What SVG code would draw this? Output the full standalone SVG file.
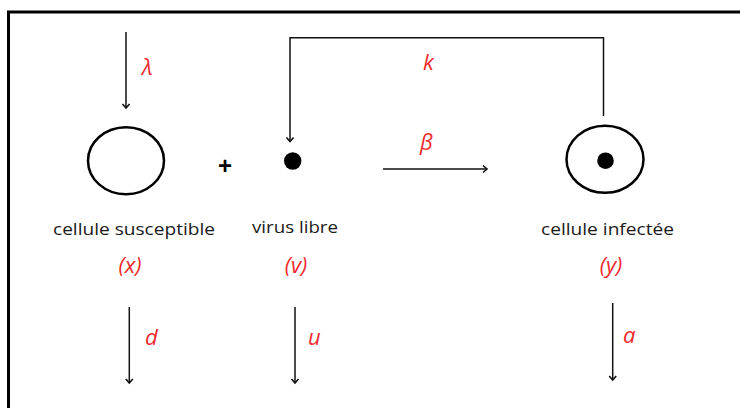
<svg xmlns="http://www.w3.org/2000/svg" width="740" height="408" viewBox="0 0 740 408">
  <style>
    .lbl { font-family: "Open Sans", "Liberation Sans", Arial, sans-serif; font-size: 17px; fill: #1a1a1a; }
    .var { font-family: "Open Sans", "Liberation Sans", Arial, sans-serif; font-size: 22px; font-style: italic; fill: #ee2a2e; }
    .par { font-family: "Open Sans", "Liberation Sans", Arial, sans-serif; font-size: 22px; font-style: italic; fill: #ee2a2e; }
    .edge { stroke: #111; stroke-width: 1.5; fill: none; }
    .cell { stroke: #000; stroke-width: 2.5; fill: #fff; }
  </style>
  <defs>
    <marker id="chev" markerUnits="userSpaceOnUse" viewBox="-6 -5 8 10" markerWidth="8" markerHeight="10" refX="0" refY="0" orient="auto">
      <path d="M-4,-3.5 L0,0 L-4,3.5" fill="none" stroke="#111" stroke-width="1.6"/>
    </marker>
  </defs>
  <rect x="8.5" y="12" width="780" height="440" fill="none" stroke="#000" stroke-width="3"/>

  <g id="connectors">
    <path class="edge" d="M126,32 V108" marker-end="url(#chev)"/>
    <path class="edge" d="M603.5,116 V37.7 H290 V141.5" marker-end="url(#chev)"/>
    <path class="edge" d="M383,169 H487" marker-end="url(#chev)"/>
    <path class="edge" d="M129.3,307 V383" marker-end="url(#chev)"/>
    <path class="edge" d="M295,307 V383" marker-end="url(#chev)"/>
    <path class="edge" d="M612.7,303 V380" marker-end="url(#chev)"/>
    <text class="par" x="142" y="75">λ</text>
    <text class="par" x="423" y="70">k</text>
    <text class="par" x="420" y="150">β</text>
    <text class="par" x="145" y="345">d</text>
    <text class="par" x="308" y="345">u</text>
    <text class="par" x="623" y="343">a</text>
  </g>

  <g id="susceptible">
    <ellipse class="cell" cx="126" cy="160.7" rx="38" ry="33.5"/>
    <text class="lbl" x="53" y="235" textLength="162" lengthAdjust="spacingAndGlyphs">cellule susceptible</text>
    <text class="var" x="130" y="272.5" text-anchor="middle">(x)</text>
  </g>

  <text x="225" y="174" text-anchor="middle" font-family="Liberation Sans, Arial, sans-serif" font-size="24" font-weight="bold" fill="#000">+</text>

  <g id="virus">
    <circle cx="292.7" cy="161" r="8.7" fill="#000"/>
    <text class="lbl" x="252" y="233" textLength="86" lengthAdjust="spacingAndGlyphs">virus libre</text>
    <text class="var" x="296" y="272.5" text-anchor="middle">(v)</text>
  </g>

  <g id="infectee">
    <ellipse class="cell" cx="605" cy="159.3" rx="38.5" ry="33.5"/>
    <circle cx="605.5" cy="160.7" r="8.3" fill="#000"/>
    <text class="lbl" x="541" y="235" textLength="133" lengthAdjust="spacingAndGlyphs">cellule infectée</text>
    <text class="var" x="611" y="272.5" text-anchor="middle">(y)</text>
  </g>
</svg>
